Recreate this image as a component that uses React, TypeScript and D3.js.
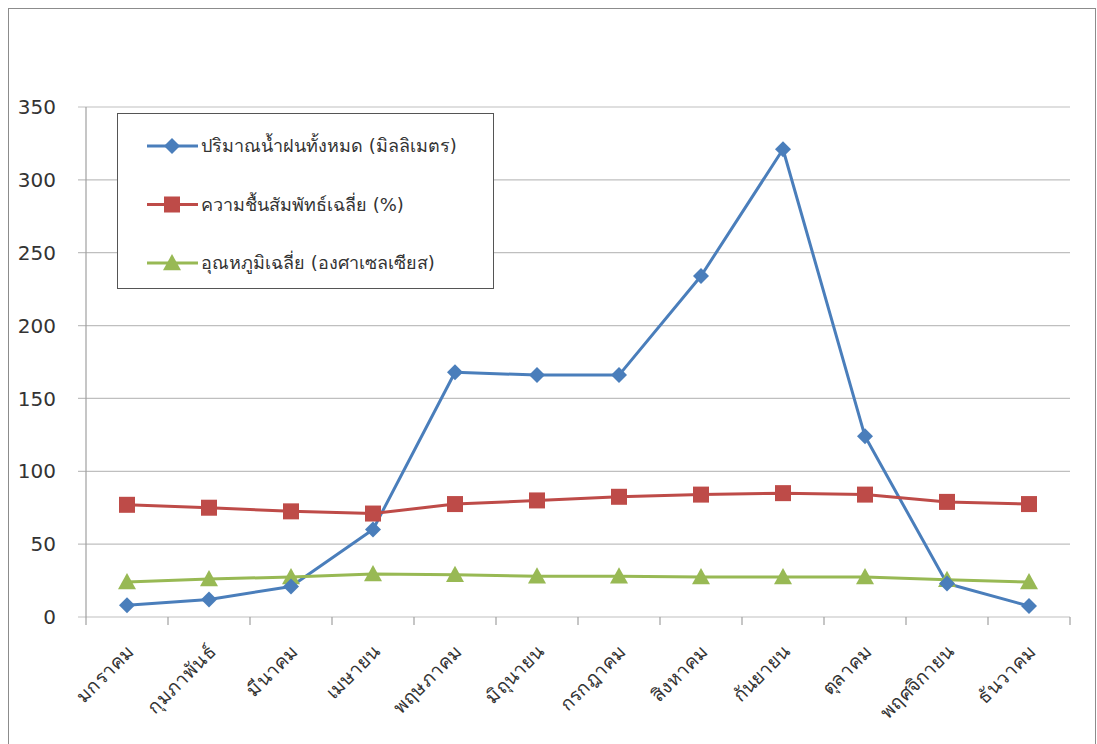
import React from "react";
import * as d3 from "d3";

const months = ["มกราคม","กุมภาพันธ์","มีนาคม","เมษายน","พฤษภาคม","มิถุนายน","กรกฎาคม","สิงหาคม","กันยายน","ตุลาคม","พฤศจิกายน","ธันวาคม"];
const rain = [8, 12, 21, 60, 168, 166, 166, 234, 321, 124, 23, 7.5];
const humidity = [77, 75, 72.5, 71, 77.5, 80, 82.5, 84, 85, 84, 79, 77.5];
const temp = [24, 26, 27.5, 29.5, 29, 28, 28, 27.5, 27.5, 27.5, 25.5, 24];
const yTicks = [0, 50, 100, 150, 200, 250, 300, 350];
const seriesNames = ["ปริมาณน้ำฝนทั้งหมด (มิลลิเมตร)", "ความชื้นสัมพัทธ์เฉลี่ย (%)", "อุณหภูมิเฉลี่ย (องศาเซลเซียส)"];
const colors = ["#4A7EBB", "#BE4B48", "#98B954"];
const markers = ["diamond", "square", "triangle"];

const W = 1097, H = 744;
const left = 86, right = 1070, top = 107, bottom = 617;
const font = "Tahoma, 'DejaVu Sans', 'Noto Sans', sans-serif";

function Marker({ type, x, y, color }: { type: string; x: number; y: number; color: string }) {
  if (type === "diamond") {
    const s = 8;
    return <path d={`M${x},${y - s}L${x + s},${y}L${x},${y + s}L${x - s},${y}Z`} fill={color} />;
  }
  if (type === "square") {
    const s = 8;
    return <rect x={x - s} y={y - s} width={2 * s} height={2 * s} fill={color} />;
  }
  const s = 9;
  return <path d={`M${x},${y - s}L${x + s},${y + s * 0.8}L${x - s},${y + s * 0.8}Z`} fill={color} />;
}

export default function App() {
  const x = d3.scaleBand<string>().domain(months).range([left, right]);
  const y = d3.scaleLinear().domain([0, 350]).range([bottom, top]);
  const cx = (m: string) => (x(m) as number) + x.bandwidth() / 2;
  const data = [rain, humidity, temp];
  const line = d3.line<[number, number]>();

  return (
    <svg width={W} height={H} style={{ position: "absolute", left: 0, top: 0, background: "#fff" }} fontFamily={font}>
      <rect x={8.5} y={8.5} width={1087} height={760} fill="#fff" stroke="#8c8c8c" strokeWidth={1} />
      {yTicks.map((t) => (
        <g key={t}>
          <line x1={left - 8} x2={right} y1={y(t)} y2={y(t)} stroke="#bfbfbf" strokeWidth={1.2} />
          <text x={56} y={y(t)} dy="0.36em" textAnchor="end" fontSize={20} fill="#333">{t}</text>
        </g>
      ))}
      <line x1={left} x2={left} y1={top} y2={bottom + 8} stroke="#a0a0a0" strokeWidth={1.2} />
      {months.map((m, i) => (
        <line key={"t" + i} x1={(x(m) as number) + x.bandwidth()} x2={(x(m) as number) + x.bandwidth()} y1={bottom} y2={bottom + 8} stroke="#a0a0a0" strokeWidth={1.2} />
      ))}
      {months.map((m) => (
        <text key={m} transform={`translate(${cx(m) + 8},${bottom + 36}) rotate(-45)`} textAnchor="end" fontSize={19} fill="#333">{m}</text>
      ))}
      {data.map((vals, si) => (
        <g key={si}>
          <path d={line(vals.map((v, i) => [cx(months[i]), y(v)]) as [number, number][]) || ""} fill="none" stroke={colors[si]} strokeWidth={3} strokeLinejoin="round" />
        </g>
      ))}
      {[1, 2, 0].map((si) => (
        <g key={"m" + si}>
          {data[si].map((v, i) => <Marker key={i} type={markers[si]} x={cx(months[i])} y={y(v)} color={colors[si]} />)}
        </g>
      ))}
      <rect x={117.5} y={113.5} width={376} height={175} fill="#fff" stroke="#555" strokeWidth={1} />
      {seriesNames.map((n, i) => {
        const ly = 146 + i * 58.5;
        return (
          <g key={n}>
            <line x1={147} x2={198} y1={ly} y2={ly} stroke={colors[i]} strokeWidth={3} />
            <Marker type={markers[i]} x={172} y={ly} color={colors[i]} />
            <text x={201} y={ly} dy="0.35em" fontSize={18} fill="#333">{n}</text>
          </g>
        );
      })}
    </svg>
  );
}
